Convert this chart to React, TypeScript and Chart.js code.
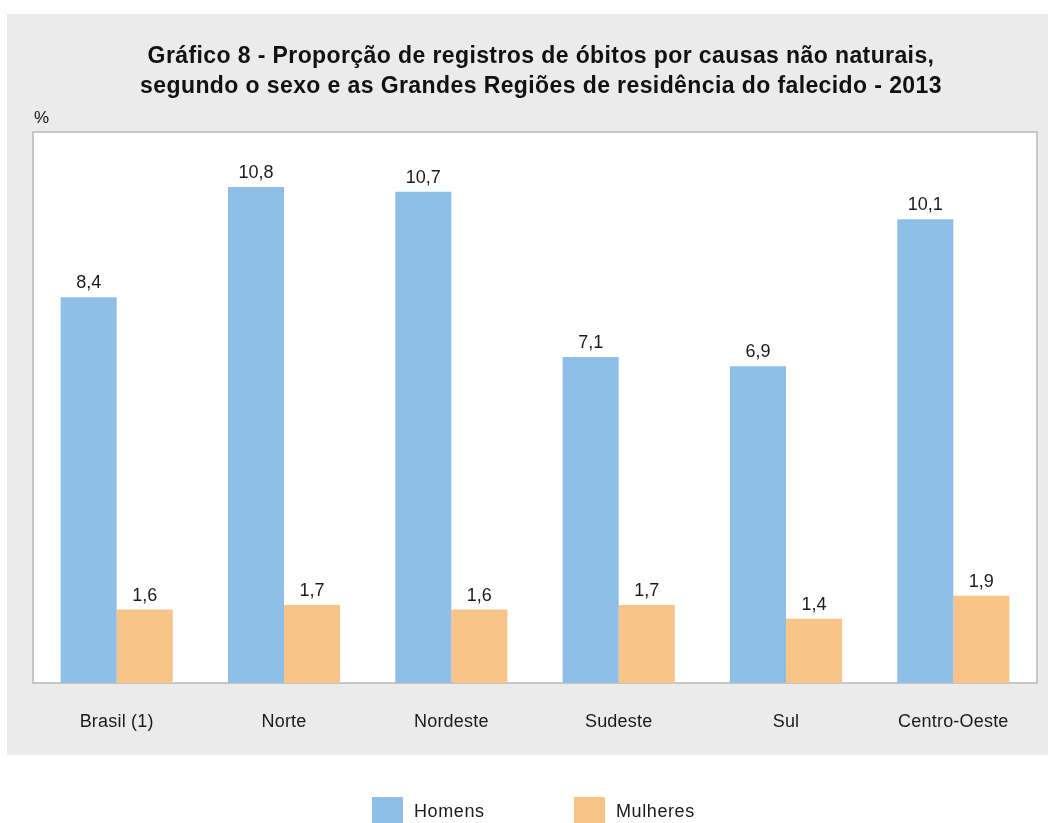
import React, { useEffect, useRef } from "react";
import { Chart, registerables } from "chart.js";

Chart.register(...registerables);

const categories = ["Brasil (1)", "Norte", "Nordeste", "Sudeste", "Sul", "Centro-Oeste"];
const homens = [8.4, 10.8, 10.7, 7.1, 6.9, 10.1];
const mulheres = [1.6, 1.7, 1.6, 1.7, 1.4, 1.9];
const seriesNames = ["Homens", "Mulheres"];
const titleLines = [
  "Gráfico 8 - Proporção de registros de óbitos por causas não naturais,",
  "segundo o sexo e as Grandes Regiões de residência do falecido - 2013",
];
const unitLabel = "%";

const BLUE = "#8fbfe6";
const ORANGE = "#f8c487";
const PANEL = "#ebebeb";
const FONT = "'Liberation Sans', Arial, sans-serif";

const decorPlugin = {
  id: "decor",
  beforeDraw(chart: any) {
    const ctx = chart.ctx;
    const a = chart.chartArea;
    ctx.save();
    ctx.fillStyle = "#ffffff";
    ctx.fillRect(0, 0, chart.width, chart.height);
    ctx.fillStyle = PANEL;
    ctx.fillRect(7, 14, 1041, 741);
    ctx.fillStyle = "#ffffff";
    ctx.fillRect(a.left, a.top, a.right - a.left, a.bottom - a.top);
    ctx.strokeStyle = "#b8b8b8";
    ctx.lineWidth = 1.5;
    ctx.strokeRect(a.left, a.top, a.right - a.left, a.bottom - a.top);
    // title
    ctx.fillStyle = "#111111";
    ctx.font = `bold 23px ${FONT}`;
    (ctx as any).letterSpacing = "0.4px";
    ctx.textAlign = "center";
    ctx.textBaseline = "alphabetic";
    ctx.fillText(titleLines[0], 541, 63);
    ctx.fillText(titleLines[1], 541, 93);
    (ctx as any).letterSpacing = "0px";
    ctx.font = `17px ${FONT}`;
    ctx.textAlign = "left";
    ctx.fillText(unitLabel, 34, 123);
    ctx.restore();
    // slight tracking for the axis tick labels drawn next by the library
    (ctx as any).letterSpacing = "0.2px";
  },
  beforeDatasetsDraw(chart: any) {
    (chart.ctx as any).letterSpacing = "0px";
  },
  afterDatasetsDraw(chart: any) {
    const ctx = chart.ctx;
    ctx.save();
    ctx.fillStyle = "#1a1a1a";
    ctx.font = `18px ${FONT}`;
    ctx.textAlign = "center";
    ctx.textBaseline = "alphabetic";
    chart.data.datasets.forEach((ds: any, i: number) => {
      const meta = chart.getDatasetMeta(i);
      meta.data.forEach((bar: any, j: number) => {
        const v = ds.data[j] as number;
        ctx.fillText(v.toFixed(1).replace(".", ","), bar.x, bar.y - 9);
      });
    });
    ctx.restore();
  },
  afterDraw(chart: any) {
    const ctx = chart.ctx;
    ctx.save();
    const boxes = [372, 574];
    chart.data.datasets.forEach((ds: any, i: number) => {
      const x = boxes[i];
      ctx.fillStyle = ds.backgroundColor;
      ctx.fillRect(x, 797, 31, 26);
      ctx.fillStyle = "#1a1a1a";
      ctx.font = `18px ${FONT}`;
      (ctx as any).letterSpacing = "0.6px";
      ctx.textAlign = "left";
      ctx.textBaseline = "alphabetic";
      ctx.fillText(ds.label, x + 42, 817);
    });
    ctx.restore();
  },
};

export default function App() {
  const ref = useRef<HTMLCanvasElement | null>(null);
  useEffect(() => {
    if (!ref.current) return;
    const chart = new Chart(ref.current, {
      type: "bar",
      data: {
        labels: categories,
        datasets: [
          { label: seriesNames[0], data: homens, backgroundColor: BLUE, borderWidth: 0 },
          { label: seriesNames[1], data: mulheres, backgroundColor: ORANGE, borderWidth: 0 },
        ],
      },
      options: {
        animation: false,
        responsive: false,
        maintainAspectRatio: false,
        layout: { padding: { left: 33, right: 14, top: 132, bottom: 0 } },
        plugins: {
          legend: { display: false },
          title: { display: false },
          tooltip: { enabled: false },
        },
        datasets: { bar: { categoryPercentage: 0.67, barPercentage: 1 } },
        scales: {
          x: {
            grid: { display: false, drawTicks: false },
            border: { display: false },
            ticks: { color: "#1a1a1a", font: { family: FONT, size: 18 }, padding: 28 },
            afterFit: (scale: any) => {
              scale.height = 140;
            },
          },
          y: { display: false, min: 0, max: 12 },
        },
      },
      plugins: [decorPlugin],
    } as any);
    return () => chart.destroy();
  }, []);
  return (
    <div style={{ position: "absolute", left: 0, top: 0, width: 1051, height: 823 }}>
      <canvas ref={ref} width={1051} height={823} style={{ display: "block" }} />
    </div>
  );
}
